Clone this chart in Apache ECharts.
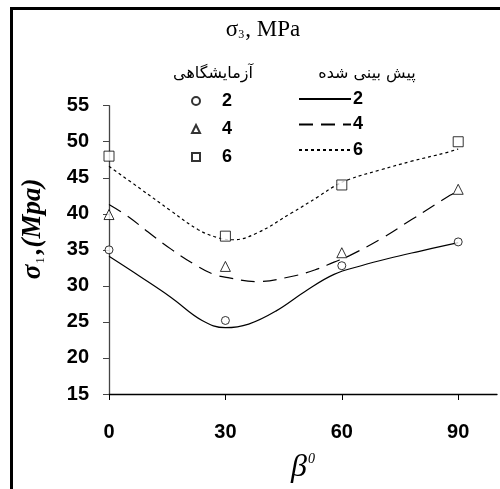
<!DOCTYPE html>
<html>
<head>
<meta charset="utf-8">
<script src="https://cdn.jsdelivr.net/npm/echarts@6/dist/echarts.min.js"></script>
<style>html,body{margin:0;padding:0;background:#fff}#c{width:500px;height:489px}</style>
</head>
<body>
<div id="c"></div>
<script>
// Tick labels
var xTicks = [0, 30, 60, 90];
var yTicks = [15, 20, 25, 30, 35, 40, 45, 50, 55];
// Experimental points (beta, sigma1)
var exp2 = [[0, 35.0], [30, 25.2], [60, 32.8], [90, 36.1]];
var exp4 = [[0, 39.9], [30, 32.7], [60, 34.6], [90, 43.4]];
var exp6 = [[0, 48.0], [30, 36.9], [60, 44.0], [90, 50.0]];
// Predicted curves
var pred2 = [[0, 34.1], [8, 31.3], [16, 28.4], [24, 25.2], [30, 24.2], [36, 24.7], [43, 26.5], [51, 29.4], [58, 31.6], [65, 32.8], [72, 33.8], [80, 34.8], [90, 36.0]];
var pred4 = [[0, 41.3], [5, 39.6], [10, 37.5], [16, 35.1], [22, 33.0], [27, 31.6], [31, 31.1], [38, 30.6], [47, 31.3], [53, 32.2], [58, 33.3], [62, 34.2], [70, 36.5], [78, 39.2], [88, 42.6], [90, 43.2]];
var pred6 = [[0, 46.6], [8, 43.5], [16, 40.4], [23, 37.8], [28, 36.7], [32, 36.4], [38, 37.3], [47, 40.1], [54, 42.4], [58, 43.8], [62, 44.8], [70, 46.1], [78, 47.3], [87, 48.5], [90, 49.0]];
var legendNums = ['2', '4', '6'];

var chart = echarts.init(document.getElementById('c'), null, {renderer: 'canvas'});
var sans = 'Liberation Sans, Arial, sans-serif';
var serif = 'Liberation Serif, Times New Roman, serif';
function expSeries(name, data, symbol, size) {
  return {name: name, type: 'scatter', data: data, symbol: symbol, symbolSize: size, clip: false,
    itemStyle: {color: '#fff', borderColor: '#000', borderWidth: 1}, z: 5};
}
function predSeries(name, data, type) {
  return {name: name, type: 'line', data: data, smooth: 0.4, symbol: 'none', clip: false,
    lineStyle: {color: '#000', width: 1.2, type: type}, itemStyle: {color: '#000'}};
}
var option = {
  backgroundColor: '#fff',
  animation: false,
  title: [{
    text: '{a|σ}{b|3}{a|, MPa}', left: 258, textAlign: 'center', top: 13,
    textStyle: {fontWeight: 'normal', rich: {a: {fontFamily: serif, fontWeight: 'normal', fontSize: 23, color: '#000'}, b: {fontFamily: serif, fontWeight: 'normal', fontSize: 12, color: '#000', verticalAlign: 'bottom', padding: [9, 1, 0, 0]}}}
  }],
  graphic: [
    {type: 'rect', shape: {x: 11.5, y: 8.5, width: 600, height: 600}, style: {fill: null, stroke: '#000', lineWidth: 3}, silent: true},
    {type: 'text', x: 213, y: 74, style: {text: 'آزمایشگاهی', font: '16px "DejaVu Sans"', fill: '#000', align: 'center', verticalAlign: 'middle'}},
    {type: 'text', x: 367, y: 74, style: {text: 'پیش بینی شده', font: '16px "DejaVu Sans"', fill: '#000', align: 'center', verticalAlign: 'middle'}}
  ],
  legend: [{
    data: ['e2', 'e4', 'e6'], orient: 'vertical', left: 186, top: 87, itemWidth: 8, itemHeight: 8, itemGap: 10,
    formatter: function (n) { return n.slice(1); },
    textStyle: {fontFamily: sans, fontWeight: 'bold', fontSize: 18, color: '#000', padding: [0, 0, 0, 17]},
    selectedMode: false
  }, {
    data: ['p2', 'p4', 'p6'], orient: 'vertical', left: 293, top: 85, itemWidth: 52, itemHeight: 10, itemGap: 7.5,
    formatter: function (n) { return n.slice(1); },
    itemStyle: {opacity: 0},
    textStyle: {fontFamily: sans, fontWeight: 'bold', fontSize: 18, color: '#000', padding: [0, 0, 0, -3]},
    selectedMode: false
  }],
  grid: {left: 109, right: 3, top: 105.7, bottom: 94, containLabel: false},
  xAxis: {
    type: 'value', min: 0, max: 100, interval: 30,
    name: '{a|β}{b|0}', nameLocation: 'middle', nameGap: 58,
    nameTextStyle: {rich: {a: {fontFamily: serif, fontStyle: 'italic', fontSize: 32, color: '#000'}, b: {fontFamily: serif, fontStyle: 'italic', fontSize: 14, color: '#000', verticalAlign: 'top', padding: [0, 0, 14, 1]}}},
    axisLine: {show: true, lineStyle: {color: '#000', width: 1.3}},
    axisTick: {show: true, length: 6, customValues: xTicks, lineStyle: {color: '#000'}},
    axisLabel: {customValues: xTicks, margin: 28, fontFamily: sans, fontWeight: 'bold', fontSize: 20, color: '#000'},
    splitLine: {show: false}
  },
  yAxis: {
    type: 'value', min: 15, max: 55, interval: 5,
    name: '{a|σ}{b|1}{a|,(}{m|Mpa}{a|)}', nameLocation: 'middle', nameRotate: 90, nameGap: 62,
    nameTextStyle: {padding: [0, 0, 0, 42], rich: {
      a: {fontFamily: serif, fontStyle: 'italic', fontWeight: 'bold', fontSize: 27, color: '#000'},
      m: {fontFamily: serif, fontStyle: 'italic', fontWeight: 'bold', fontSize: 27, color: '#000'},
      b: {fontFamily: serif, fontSize: 13, color: '#000', verticalAlign: 'bottom', padding: [10, 3, 0, 1]}}},
    axisLine: {show: true, lineStyle: {color: '#444', width: 1.3}},
    axisTick: {show: true, length: 6, lineStyle: {color: '#444'}},
    axisLabel: {margin: 20, fontFamily: sans, fontWeight: 'bold', fontSize: 20, color: '#000'},
    splitLine: {show: false}
  },
  series: [
    predSeries('p2', pred2, 'solid'),
    predSeries('p4', pred4, [14, 8]),
    predSeries('p6', pred6, [3, 3]),
    expSeries('e2', exp2, 'circle', 8),
    expSeries('e4', exp4, 'triangle', 10),
    expSeries('e6', exp6, 'rect', 10)
  ]
};
chart.setOption(option);
</script>
</body>
</html>
